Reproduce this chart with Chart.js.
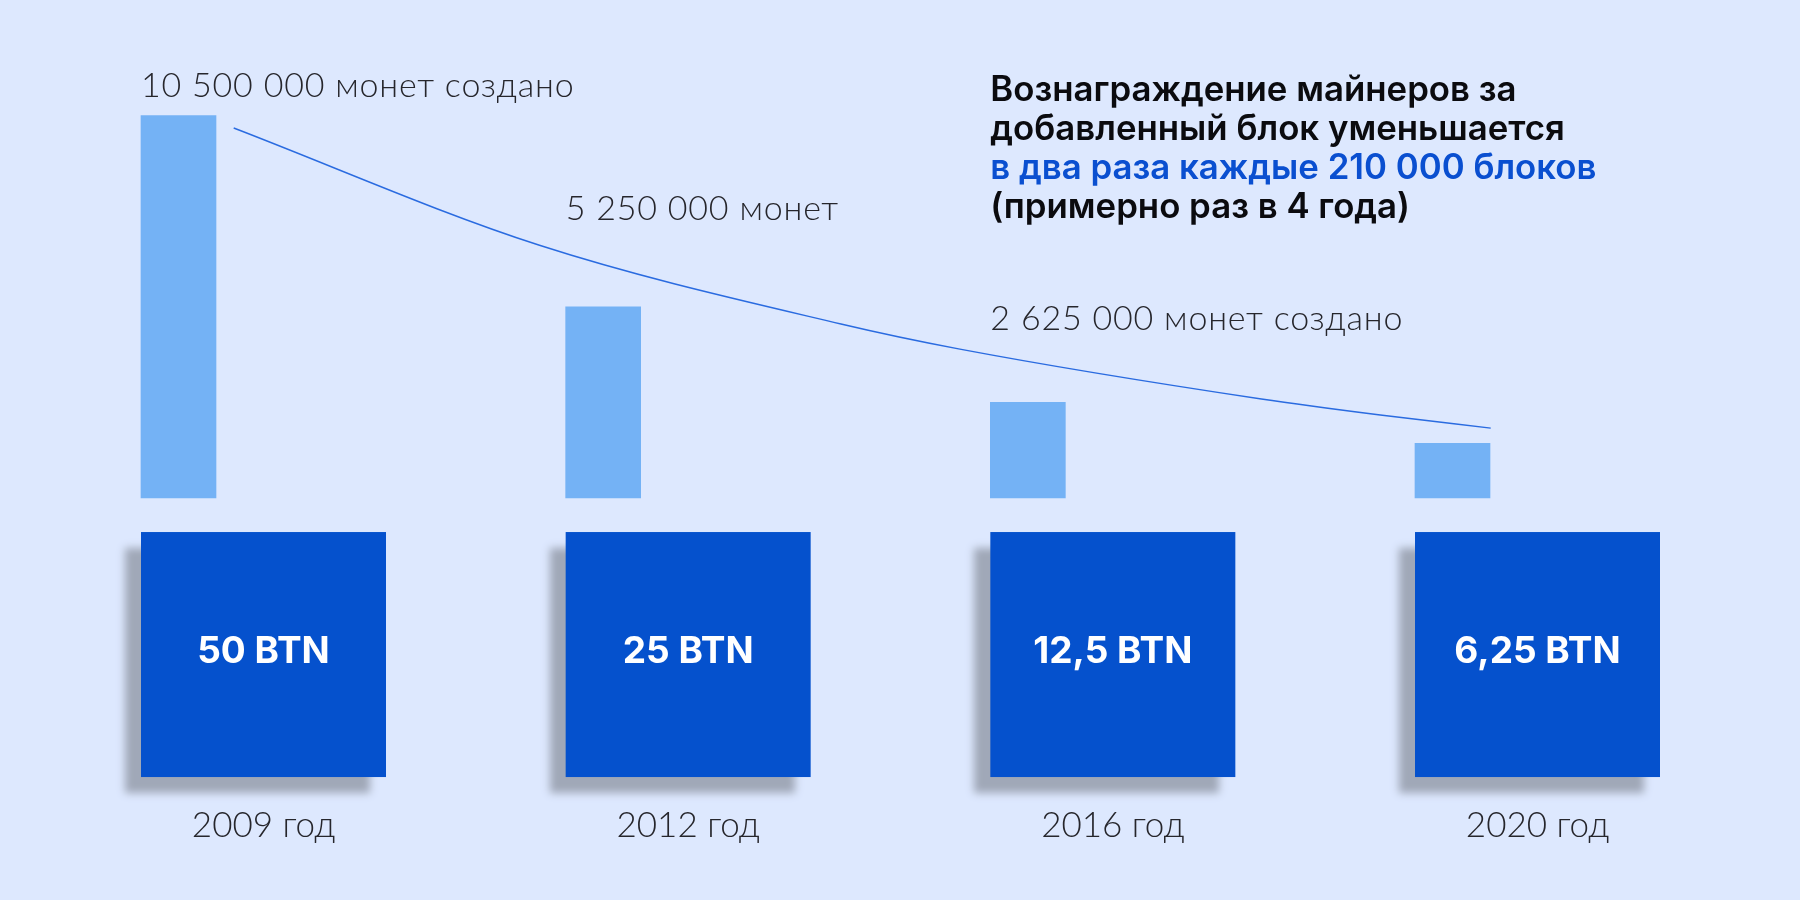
<!DOCTYPE html>
<html lang="ru">
<head>
<meta charset="utf-8">
<title>Вознаграждение майнеров</title>
<script src="https://cdn.jsdelivr.net/npm/chart.js@4.4.1/dist/chart.umd.min.js"></script>
<style>
  html, body { margin: 0; padding: 0; background: #dde8fe; }
  #wrap { width: 1800px; height: 900px; position: relative; }
</style>
</head>
<body>
<div id="wrap"><canvas id="chart"></canvas></div>
<script>
// данные графика
const YEARS = ["2009 год", "2012 год", "2016 год", "2020 год"];
const COINS = [10500000, 5250000, 2625000, 1500000];          // высота светлых столбиков
const REWARDS = ["50 BTN", "25 BTN", "12,5 BTN", "6,25 BTN"];  // подписи в квадратах
const COIN_NOTES = ["10 500 000 монет создано", "5 250 000 монет", "2 625 000 монет создано", ""];
// кривая спада (x в единицах категорий, y в монетах)
const CURVE_X = [0.13, 0.85, 1.56, 1.84, 2.55, 2.83, 3.09];
const CURVE_Y = [10160000, 6940000, 4780000, 4090000, 2720000, 2280000, 1920000];
const TITLE_LINES = [
  "Вознаграждение майнеров за",
  "добавленный блок уменьшается",
  "в два раза каждые 210 000 блоков",
  "(примерно раз в 4 года)",
];

const LIGHT = '"Lato", "Roboto", "Open Sans", sans-serif';
const BOLD = '"Inter", "Noto Sans", sans-serif';
const BAR_COLOR = "#74b2f5";
const BOX_COLOR = "#0551cd";
const LINE_COLOR = "#2a6be0";

// where the note text sits (y in coins, just for anchoring to the scale)
const NOTE_Y = [11020000, 7630000, 4610000];

const decor = {
  id: "decor",
  afterDatasetsDraw(chart) {
    const { ctx } = chart;
    const bars = chart.getDatasetMeta(0).data;
    const y = chart.scales.y;
    const base = y.getPixelForValue(0);
    const SQ = 245;

    ctx.save();
    // подписи над столбиками
    ctx.font = `300 34px ${LIGHT}`;
    ctx.letterSpacing = "0.8px";
    ctx.fillStyle = "#26262c";
    ctx.textBaseline = "alphabetic";
    ctx.textAlign = "left";
    COIN_NOTES.forEach((t, i) => {
      if (!t) return;
      const b = bars[i];
      ctx.fillText(t, b.x - b.width / 2, y.getPixelForValue(NOTE_Y[i]));
    });
    ctx.letterSpacing = "0px";

    // квадраты с наградой
    bars.forEach((b, i) => {
      const left = b.x - b.width / 2;
      const top = base + 34;
      ctx.save();
      ctx.shadowColor = "#a0a8b8";
      ctx.shadowBlur = 8;
      ctx.shadowOffsetX = -16;
      ctx.shadowOffsetY = 16;
      ctx.fillStyle = BOX_COLOR;
      ctx.fillRect(left, top, SQ, SQ);
      ctx.restore();
      ctx.fillStyle = "#ffffff";
      ctx.font = `700 37px ${BOLD}`;
      ctx.textAlign = "center";
      ctx.textBaseline = "alphabetic";
      ctx.fillText(REWARDS[i], left + SQ / 2, top + 131);
    });

    // заголовок
    const tx = bars[2].x - bars[2].width / 2;
    ctx.textAlign = "left";
    ctx.font = `600 34.8px ${BOLD}`;
    TITLE_LINES.forEach((t, i) => {
      ctx.fillStyle = i === 2 ? "#0a4fd0" : "#0b0b0f";
      ctx.fillText(t, tx, 101 + i * 39);
    });
    ctx.restore();
  },
};

new Chart(document.getElementById("chart"), {
  type: "bar",
  data: {
    labels: YEARS,
    datasets: [
      {
        label: "Монет создано",
        data: COINS,
        backgroundColor: BAR_COLOR,
        barThickness: 75,
        grouped: false,
        clip: false,
        order: 2,
      },
      {
        type: "line",
        label: "Спад",
        xAxisID: "xc",
        data: CURVE_X.map((x, i) => ({ x, y: CURVE_Y[i] })),
        borderColor: LINE_COLOR,
        borderWidth: 1.4,
        pointRadius: 0,
        cubicInterpolationMode: "monotone",
        fill: false,
        clip: false,
        order: 1,
      },
    ],
  },
  options: {
    responsive: true,
    maintainAspectRatio: false,
    animation: false,
    // столбик встаёт левым краем к квадрату: центр категории = левый край + 37.5
    layout: { padding: { left: 178.5, right: 347.5, top: 61, bottom: 0 } },
    plugins: { legend: { display: false }, tooltip: { enabled: false } },
    scales: {
      x: {
        type: "category",
        offset: false,
        grid: { display: false, drawTicks: false, offset: false },
        border: { display: false },
        ticks: {
          color: "#26262c",
          padding: 15,
          labelOffset: 85,
          font: { family: LIGHT, size: 35, weight: 300 },
        },
        afterFit(s) { s.height = 110.6; },
      },
      xc: { type: "linear", display: false, offset: false, min: 0, max: 3 },
      y: { display: false, min: -8000000, max: 12000000 },
    },
  },
  plugins: [decor],
});
</script>
</body>
</html>
